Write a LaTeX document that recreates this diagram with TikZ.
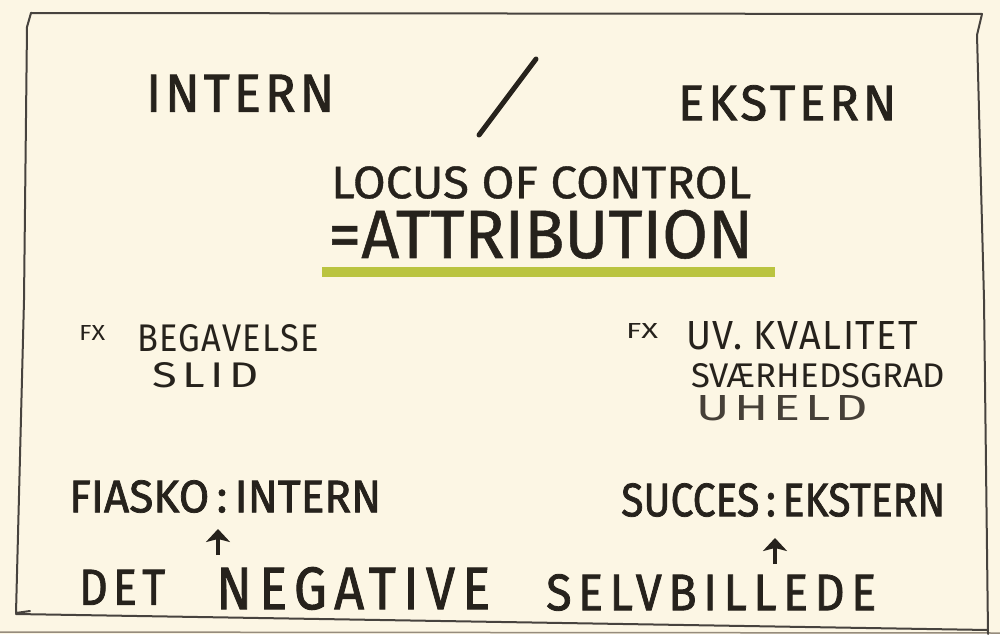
\documentclass[tikz,border=0pt]{standalone}
\usepackage{fontspec}
\setmainfont{Fira Sans}
\newfontfamily\heavy[FakeBold=1.6]{Fira Sans}
\newfontfamily\medium[FakeBold=0.8]{Fira Sans}
\usetikzlibrary{arrows.meta}
\definecolor{paper}{RGB}{252,246,228}
\definecolor{ink}{RGB}{38,34,28}
\definecolor{inklight}{RGB}{70,64,56}
\definecolor{marker}{RGB}{186,196,64}
\definecolor{edgegray}{RGB}{150,140,125}
\newcommand\fitt[3]{\resizebox{#1pt}{#2pt}{#3}}
\newcommand\spaced[2]{{\addfontfeature{LetterSpace=#1}#2}}
\tikzset{
  lbl/.style={anchor=south west, inner sep=0pt, text=ink},
  lbllight/.style={anchor=south west, inner sep=0pt, text=inklight},
  frame/.style={draw=ink!85, line width=2pt, line join=round, line cap=round},
  pen/.style={draw=ink, line width=5pt, line cap=round},
  uparrow/.style={draw=ink, line width=4pt, -{Stealth[length=13pt,width=24pt,inset=3pt]}}
}
\begin{document}
\begin{tikzpicture}[x=1pt,y=-1pt]
\useasboundingbox (0,0) rectangle (1000,634);
\fill[paper] (0,0) rectangle (1000,634);
\draw[edgegray, line width=1.5pt] (0,632) -- (1000,633);
% frame
\draw[frame] (31,13) -- (982,14) -- (977,35) -- (984,300) -- (988,634);
\draw[frame] (31,13) -- (27,27) -- (24,300) -- (16,613) -- (30,611);
\draw[frame] (16,614) -- (988,630);
% title row
\node[lbl] (intern) at (146,112) {\fitt{188}{37}{\heavy\spaced{8}{INTERN}}};
\coordinate (s1) at (479,135);
\coordinate (s2) at (536,59);
\draw[pen] (s1) -- (s2);
\node[lbl] (ekstern) at (678,121) {\fitt{218}{35}{\heavy\spaced{8}{EKSTERN}}};
\node[lbl] (locus) at (331,199) {\fitt{420}{32}{\medium LOCUS OF CONTROL}};
\node[lbl] (attr) at (328,259) {\fitt{425}{48}{\medium =ATTRIBUTION}};
\coordinate (g1) at (322,272);
\coordinate (g2) at (775,272);
\draw[marker, line width=10pt] (g1) -- (g2);
% examples
\node[lbl] (fx1) at (79,341) {\fitt{26}{15}{FX}};
\node[lbl] (beg) at (137,352) {\fitt{182}{27}{\spaced{4}{BEGAVELSE}}};
\node[lbl] (slid) at (152,388) {\fitt{106}{25}{\spaced{12}{SLID}}};
\node[lbl] (fx2) at (626,339) {\fitt{32}{15}{FX}};
\node[lbl] (kval) at (686,350) {\fitt{232}{28}{\spaced{4}{UV. KVALITET}}};
\node[lbl] (svaer) at (691,388) {\fitt{254}{24}{SVÆRHEDSGRAD}};
\node[lbllight] (uheld) at (696,421) {\fitt{172}{25}{\spaced{10}{UHELD}}};
% bottom
\node[lbl] (fiasko) at (69,513) {\fitt{312}{32}{\heavy FIASKO\,:\,INTERN}};
\node[lbl] (succes) at (621,517) {\fitt{324}{33}{\heavy SUCCES\,:\,EKSTERN}};
\node[lbl] (det) at (79,605) {\fitt{86}{35}{\heavy\spaced{12}{DET}}};
\node[lbl] (neg) at (216,610) {\fitt{274}{42}{\heavy\spaced{14}{NEGATIVE}}};
\node[lbl] (selv) at (546,611) {\fitt{330}{36}{\heavy\spaced{14}{SELVBILLEDE}}};
\coordinate (a1) at (218,555);
\coordinate (a1t) at (218,529);
\coordinate (a2) at (775,564);
\coordinate (a2t) at (775,538);
\draw[uparrow] (a1) -- (a1t);
\draw[uparrow] (a2) -- (a2t);
\end{tikzpicture}
\end{document}
